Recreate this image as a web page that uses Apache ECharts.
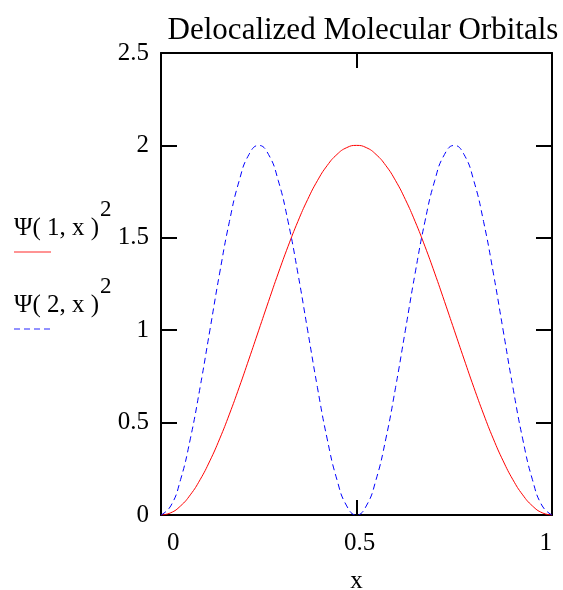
<!DOCTYPE html>
<html>
<head>
<meta charset="utf-8">
<script src="https://cdn.jsdelivr.net/npm/echarts@6/dist/echarts.min.js"></script>
<style>html,body{margin:0;padding:0;background:#fff;}#c{width:563px;height:590px;}</style>
</head>
<body>
<div id="c"></div>
<script>
const titleText = 'Delocalized Molecular Orbitals';
const xValues = [0, 0.025, 0.05, 0.075, 0.1, 0.125, 0.15, 0.175, 0.2, 0.225, 0.25, 0.275, 0.3, 0.325, 0.35, 0.375, 0.4, 0.425, 0.45, 0.475, 0.5,
  0.525, 0.55, 0.575, 0.6, 0.625, 0.65, 0.675, 0.7, 0.725, 0.75, 0.775, 0.8, 0.825, 0.85, 0.875, 0.9, 0.925, 0.95, 0.975, 1];
const psi1Sq = [0, 0.012, 0.049, 0.109, 0.191, 0.293, 0.412, 0.546, 0.691, 0.844, 1.0, 1.156, 1.309, 1.454, 1.588, 1.707, 1.809, 1.891, 1.951, 1.988, 2.0,
  1.988, 1.951, 1.891, 1.809, 1.707, 1.588, 1.454, 1.309, 1.156, 1.0, 0.844, 0.691, 0.546, 0.412, 0.293, 0.191, 0.109, 0.049, 0.012, 0];
const psi2Sq = [0, 0.049, 0.191, 0.412, 0.691, 1.0, 1.309, 1.588, 1.809, 1.951, 2.0, 1.951, 1.809, 1.588, 1.309, 1.0, 0.691, 0.412, 0.191, 0.049, 0,
  0.049, 0.191, 0.412, 0.691, 1.0, 1.309, 1.588, 1.809, 1.951, 2.0, 1.951, 1.809, 1.588, 1.309, 1.0, 0.691, 0.412, 0.191, 0.049, 0];
const seriesNames = ['Ψ( 1, x )', 'Ψ( 2, x )'];
const xAxisName = 'x';

const FONT = '"Liberation Serif", "DejaVu Serif", serif';
const chart = echarts.init(document.getElementById('c'), null, {renderer: 'canvas'});

const axisLineStyle = {color: '#000', width: 2};
const tickStyle = {color: '#000', width: 2};

chart.setOption({
  backgroundColor: '#fff',
  animation: false,
  title: {
    text: titleText, left: 358, top: 10, textAlign: 'center',
    textStyle: {fontFamily: FONT, fontSize: 31, fontWeight: 'normal', color: '#000'}
  },
  grid: {left: 161, right: 11, top: 53, bottom: 75, containLabel: false, outerBoundsMode: 'none'},
  xAxis: [{
    type: 'value', min: 0, max: 1, interval: 0.5, position: 'bottom',
    name: xAxisName, nameLocation: 'middle', nameGap: 54,
    nameTextStyle: {fontFamily: FONT, fontSize: 25, color: '#000'},
    axisLine: {show: true, onZero: false, lineStyle: axisLineStyle},
    axisTick: {show: true, inside: true, length: 15, lineStyle: tickStyle},
    axisLabel: {fontFamily: FONT, fontSize: 25, color: '#000', margin: 16, alignMinLabel: 'left', alignMaxLabel: 'right',
      padding: [0, 0, 0, 6],
      formatter: v => String(v)},
    splitLine: {show: false}
  }, {
    type: 'value', min: 0, max: 1, interval: 0.5, position: 'top',
    axisLine: {show: true, onZero: false, lineStyle: axisLineStyle},
    axisTick: {show: true, inside: true, length: 15, lineStyle: tickStyle},
    axisLabel: {show: false}, splitLine: {show: false}
  }],
  yAxis: [{
    type: 'value', min: 0, max: 2.5, interval: 0.5, position: 'left',
    axisLine: {show: true, onZero: false, lineStyle: axisLineStyle},
    axisTick: {show: true, inside: true, length: 16, lineStyle: tickStyle},
    axisLabel: {fontFamily: FONT, fontSize: 25, color: '#000', margin: 12, formatter: v => String(v)},
    splitLine: {show: false}
  }, {
    type: 'value', min: 0, max: 2.5, interval: 0.5, position: 'right',
    axisLine: {show: true, onZero: false, lineStyle: axisLineStyle},
    axisTick: {show: true, inside: true, length: 16, lineStyle: tickStyle},
    axisLabel: {show: false}, splitLine: {show: false}
  }],
  series: [{
    name: seriesNames[0], type: 'line', xAxisIndex: 0, yAxisIndex: 0,
    data: xValues.map((x, i) => [x, psi1Sq[i]]),
    smooth: true, showSymbol: false, symbol: 'none',
    lineStyle: {color: '#ff0000', width: 1}, z: 1
  }, {
    name: seriesNames[1], type: 'line', xAxisIndex: 0, yAxisIndex: 0,
    data: xValues.map((x, i) => [x, psi2Sq[i]]),
    smooth: true, showSymbol: false, symbol: 'none',
    lineStyle: {color: '#0000ff', width: 1, type: [6, 4]}, z: 1
  }],
  graphic: [
    {type: 'text', left: 14, top: 216, style: {text: seriesNames[0], font: '25px ' + FONT, fill: '#000'}},
    {type: 'text', left: 100, top: 198, style: {text: '2', font: '23px ' + FONT, fill: '#000'}},
    {type: 'line', shape: {x1: 14, y1: 252, x2: 51, y2: 252}, style: {stroke: '#ff6f6f', lineWidth: 1.5}},
    {type: 'text', left: 14, top: 293, style: {text: seriesNames[1], font: '25px ' + FONT, fill: '#000'}},
    {type: 'text', left: 100, top: 275, style: {text: '2', font: '23px ' + FONT, fill: '#000'}},
    {type: 'line', shape: {x1: 14, y1: 329, x2: 51, y2: 329}, style: {stroke: '#6f6fff', lineWidth: 1.5, lineDash: [6, 4]}}
  ]
});
</script>
</body>
</html>
